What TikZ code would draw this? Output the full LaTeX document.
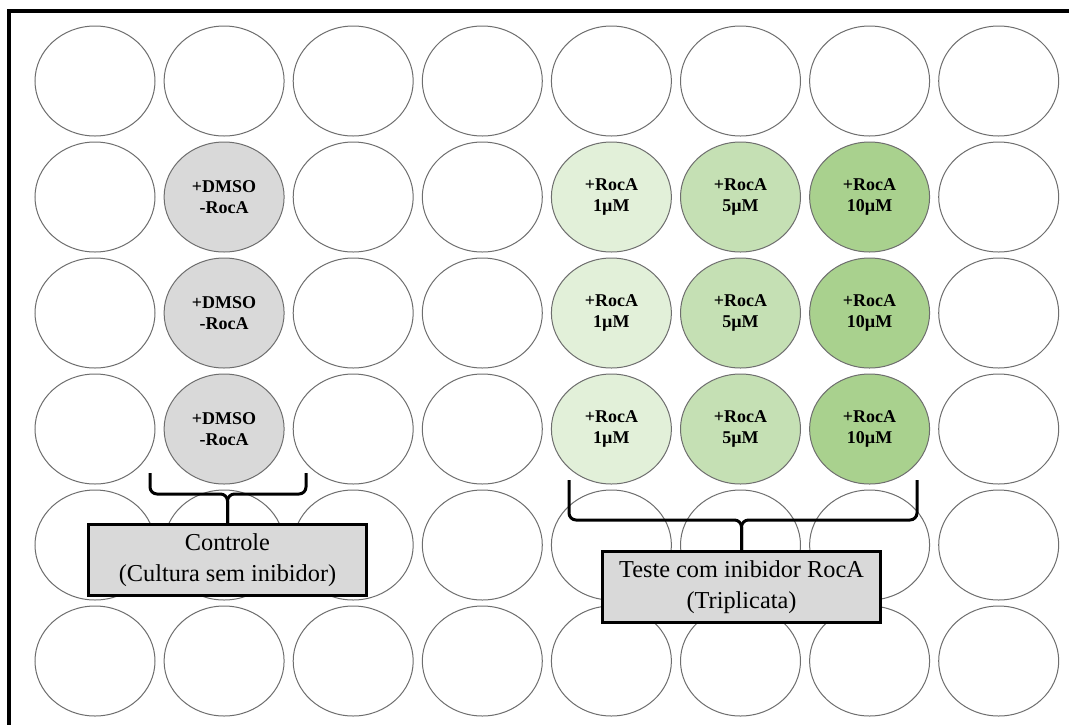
\documentclass[tikz,border=0pt]{standalone}
\usepackage{fontspec}
\setmainfont{Liberation Serif}
\usetikzlibrary{shapes.geometric}
\definecolor{wellgray}{HTML}{D9D9D9}
\definecolor{greenA}{HTML}{E2F0D9}
\definecolor{greenB}{HTML}{C5E0B4}
\definecolor{greenC}{HTML}{A9D18E}
\definecolor{wellline}{HTML}{6E6E6E}
\begin{document}
\begin{tikzpicture}[x=1pt,y=-1pt,
  well/.style={ellipse, draw=wellline, line width=1pt, minimum width=120pt, minimum height=110pt,
    inner sep=0pt, align=center, font=\fontsize{18}{21}\selectfont\bfseries},
  plain/.style={fill=white},
  ctrl/.style={fill=wellgray},
  gA/.style={fill=greenA},
  gB/.style={fill=greenB},
  gC/.style={fill=greenC},
  labelbox/.style={draw=black, line width=3pt, fill=wellgray, minimum width=278pt, minimum height=71pt,
    inner sep=0pt, align=center, font=\fontsize{24.3}{30.5}\selectfont},
  bracepath/.style={draw=black, line width=3pt, rounded corners=7pt},
  frame/.style={draw=black, line width=3.5pt}]
\useasboundingbox (0,0) rectangle (1069,724);
\clip (0,0) rectangle (1069,724);
\fill[white] (0,0) rectangle (1069,724);
\coordinate (fbl) at (9,740);
\coordinate (ftl) at (9,11);
\coordinate (ftr) at (1090,11);
\draw[frame] (fbl) -- (ftl) -- (ftr);
\foreach \r in {0,...,5}{
  \foreach \c in {0,...,7}{
    \def\wst{plain}\def\wtxt{}
    \ifnum\r>0 \ifnum\r<4
      \ifnum\c=1 \def\wst{ctrl}\def\wtxt{+DMSO\\-RocA}\fi
      \ifnum\c=4 \def\wst{gA}\def\wtxt{+RocA\\1µM}\fi
      \ifnum\c=5 \def\wst{gB}\def\wtxt{+RocA\\5µM}\fi
      \ifnum\c=6 \def\wst{gC}\def\wtxt{+RocA\\10µM}\fi
    \fi\fi
    \node[well,\wst] (w-\r-\c) at ({95+129.1*\c},{81+116*\r}) {\wtxt};
  }
}
% braces
\coordinate (b1l) at (150,473);
\coordinate (b1r) at (306,473);
\coordinate (b1ml) at (150,494);
\coordinate (b1mr) at (306,494);
\coordinate (b1m) at (227.5,494);
\coordinate (b1s) at (227.5,525);
\coordinate (b2l) at (569,480);
\coordinate (b2r) at (917,480);
\coordinate (b2ml) at (569,520);
\coordinate (b2mr) at (917,520);
\coordinate (b2m) at (741.5,520);
\coordinate (b2s) at (741.5,552);
\draw[bracepath] (b1l) -- (b1ml) -- (b1m) -- (b1s);
\draw[bracepath] (b1r) -- (b1mr) -- (b1m) -- (b1s);
\draw[bracepath] (b2l) -- (b2ml) -- (b2m) -- (b2s);
\draw[bracepath] (b2r) -- (b2mr) -- (b2m) -- (b2s);
% label boxes
\node[labelbox] (box1) at (227.5,560) {Controle\\(Cultura sem inibidor)};
\node[labelbox] (box2) at (741.5,587) {Teste com inibidor RocA\\(Triplicata)};
\end{tikzpicture}
\end{document}
